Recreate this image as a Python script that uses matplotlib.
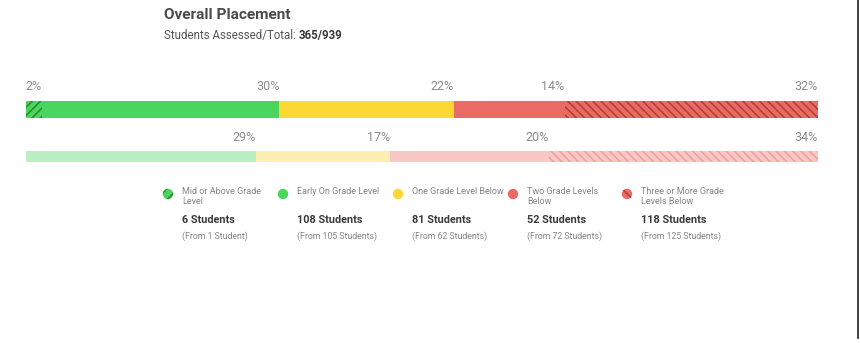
import matplotlib
matplotlib.use("Agg")
import numpy as np
import matplotlib.pyplot as plt
from matplotlib.patches import Circle
from matplotlib.lines import Line2D

plt.rcParams["font.family"] = ["Roboto", "DejaVu Sans"]
plt.rcParams["hatch.linewidth"] = 1.15

# Data
categories = [
    "Mid or Above Grade\nLevel",
    "Early On Grade Level",
    "One Grade Level Below",
    "Two Grade Levels\nBelow",
    "Three or More Grade\nLevels Below",
]
current_pct = [2, 30, 22, 14, 32]
previous_pct = [0, 29, 17, 20, 34]
current_students = [6, 108, 81, 52, 118]
previous_students = [1, 105, 62, 72, 125]
assessed, total = 365, 939

# Styling
solid_colors = ["#4ad65c", "#4ad65c", "#fdd835", "#ea6b66", "#ea6b66"]
hatch_colors = ["#2f8a35", None, None, None, "#b0403a"]
bar_hatch = ["////", None, None, None, "\\\\\\\\"]
icon_hatch = ["///", None, None, None, "\\\\\\"]
light_colors = ["#b9efc3", "#b9efc3", "#fcefb1", "#f9c7c6", "#f9c7c6"]
light_hatch = ["#8ed79a", None, None, None, "#ef9f9d"]
pct_color = "#8c8c8c"

W, H = 860, 343
fig = plt.figure(figsize=(W / 100, H / 100), dpi=100)

# full-figure axes in pixel units for text and legend
tax = fig.add_axes([0, 0, 1, 1])
tax.set_xlim(0, W)
tax.set_ylim(H, 0)
tax.axis("off")

# bar axes, x in percent
x0, x1 = 26, 818
y_top, y_bot = 75, 170
bax = fig.add_axes([x0 / W, 1 - y_bot / H, (x1 - x0) / W, (y_bot - y_top) / H])
bax.set_xlim(0, 100)
bax.set_ylim(y_bot, y_top)
bax.axis("off")


def draw_row(pcts, colors, hatches, yc, h, ytext):
    left = 0
    for p, c, hc, hs in zip(pcts, colors, hatches, bar_hatch):
        if p > 0:
            if hc is None:
                bax.barh(yc, p, left=left, height=h, color=c, linewidth=0)
            else:
                bax.barh(yc, p, left=left, height=h, color=c,
                         edgecolor=hc, hatch=hs, linewidth=0)
            bax.text(left + p, ytext, f"{p}%", ha="right", va="center",
                     fontsize=9, color=pct_color)
        left += p


draw_row(current_pct, solid_colors, hatch_colors, 109.5, 17, 87)
draw_row(previous_pct, light_colors, light_hatch, 156.5, 11, 137)

# title
tax.text(164, 15, "Overall Placement", fontsize=11.1, fontweight="bold",
         color="#4a4a4a", ha="left", va="center")
sub = tax.text(164, 36, "Students Assessed/Total: ", fontsize=8.3,
               color="#555555", ha="left", va="center")
tax.annotate(f"{assessed}/{total}", xy=(1, 0.5), xycoords=sub, fontsize=8.3,
             fontweight="bold", color="#3a3a3a", ha="left", va="center")

# legend columns
text_x = [182, 297, 412, 527, 641]
for i, (lab, n_now, n_prev) in enumerate(zip(categories, current_students,
                                               previous_students)):
    tx = text_x[i]
    if hatch_colors[i] is None:
        circ = Circle((tx - 14, 194), 5.2, facecolor=solid_colors[i],
                      linewidth=0)
    else:
        circ = Circle((tx - 14, 194), 5.2, facecolor=solid_colors[i],
                      edgecolor=hatch_colors[i], hatch=icon_hatch[i],
                      linewidth=0)
    tax.add_patch(circ)
    tax.text(tx, 187, lab, fontsize=6.5, color="#858585", ha="left",
             va="top", linespacing=1.2)
    tax.text(tx, 220, f"{n_now} Students", fontsize=7.8, fontweight="bold",
             color="#3a3a3a", ha="left", va="center")
    word = "Student" if n_prev == 1 else "Students"
    tax.text(tx, 236, f"(From {n_prev} {word})", fontsize=6.3,
             color="#858585", ha="left", va="center")

# right border line
fig.add_artist(Line2D([858 / W, 858 / W], [0.015, 1], transform=fig.transFigure,
                      color="#222222", linewidth=1.2))

fig.savefig("out.png", dpi=100, facecolor="white")
